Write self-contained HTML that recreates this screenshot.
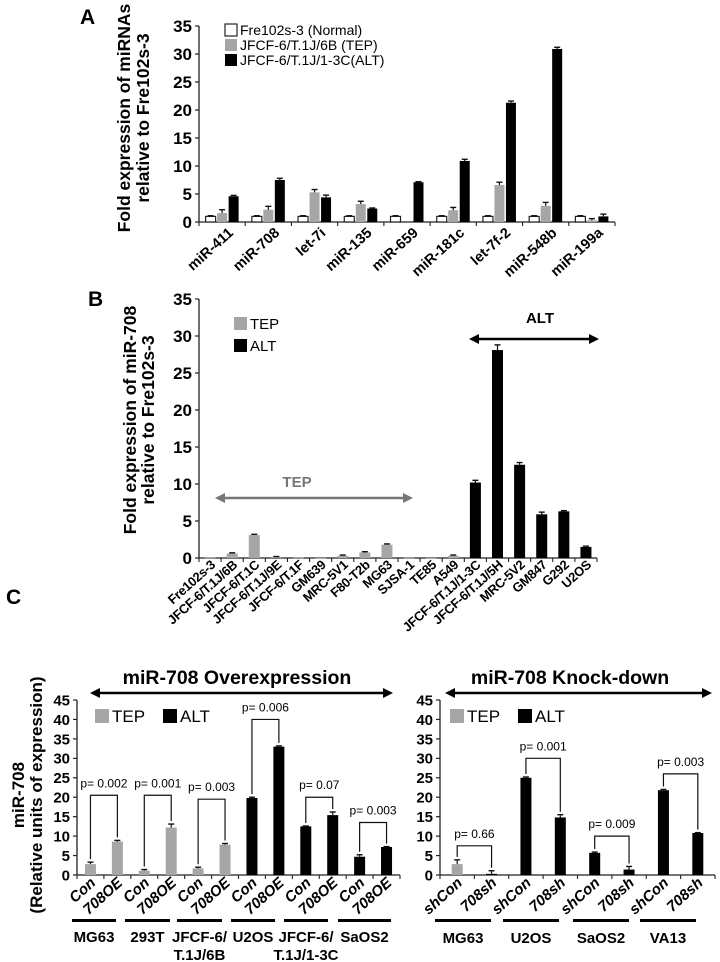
<!DOCTYPE html>
<html><head><meta charset="utf-8">
<style>
html,body{margin:0;padding:0;background:#fff;}
svg{display:block;font-family:"Liberation Sans",Arial,sans-serif;}
.b{font-weight:bold;}
</style></head>
<body>
<svg id="fig" width="720" height="962" viewBox="0 0 720 962" xmlns="http://www.w3.org/2000/svg">
<text x="80" y="24" class="b" font-size="21">A</text>
<text x="88" y="306" class="b" font-size="21">B</text>
<text x="6" y="604" class="b" font-size="21">C</text>
<g id="gA"></g>
<g id="gB"></g>
<g id="gC1"></g>
<g id="gC2"></g>
</svg>
<script>
// ---- Panel A data ----
const catsA = ["miR-411","miR-708","let-7i","miR-135","miR-659","miR-181c","let-7f-2","miR-548b","miR-199a"];
const normalA = [1,1,1,1,1,1,1,1,1];
const tepA = [1.6,2.2,5.3,3.2,0,2.1,6.6,2.9,0.3];
const altA = [4.6,7.5,4.4,2.4,7.1,10.9,21.3,30.9,1.0];
const tepErrA = [0.6,0.6,0.5,0.5,0,0.5,0.5,0.6,0.3];
const altErrA = [0.15,0.3,0.4,0.1,0.1,0.3,0.3,0.3,0.4];
const ticksA = [0,5,10,15,20,25,30,35];
// ---- Panel B data ----
const catsB = ["Fre102s-3","JFCF-6/T.1J/6B","JFCF-6/T.1C","JFCF-6/T.1J/9E","JFCF-6/T.1F","GM639","MRC-5V1","F80-T2b","MG63","SJSA-1","TE85","A549","JFCF-6/T.1J/1-3C","JFCF-6/T.1J/5H","MRC-5V2","GM847","G292","U2OS"];
const valsB = [0.05,0.6,3.1,0.15,0.05,0.02,0.3,0.75,1.8,0.03,0.02,0.3,10.2,28.1,12.6,5.9,6.3,1.5];
const typeB = ["T","T","T","T","T","T","T","T","T","T","T","T","A","A","A","A","A","A"];
const errB = [0,0.1,0.1,0.05,0,0,0.1,0.1,0.1,0,0,0.1,0.3,0.7,0.3,0.3,0.1,0.1];
const ticksB = [0,5,10,15,20,25,30,35];
// ---- Panel C data ----
const catsC1 = ["Con","708OE","Con","708OE","Con","708OE","Con","708OE","Con","708OE","Con","708OE"];
const valsC1 = [2.8,8.6,1.1,12.2,1.7,7.8,19.8,33.0,12.5,15.4,4.7,7.2];
const typeC1 = ["T","T","T","T","T","T","A","A","A","A","A","A"];
const errC1 = [0.5,0.3,0.3,0.9,0.3,0.3,0.2,0.2,0.1,0.8,0.5,0.1];
const groupsC1 = ["MG63","293T","JFCF-6/|T.1J/6B","U2OS","JFCF-6/|T.1J/1-3C","SaOS2"];
const pC1 = ["p= 0.002","p= 0.001","p= 0.003","p= 0.006","p= 0.07","p= 0.003"];
const pTopC1 = [20.5,20.5,19.5,40,20,13.5];
const catsC2 = ["shCon","708sh","shCon","708sh","shCon","708sh","shCon","708sh"];
const valsC2 = [2.8,0.3,25,14.8,5.7,1.4,21.8,10.8];
const typeC2 = ["T","A","A","A","A","A","A","A"];
const errC2 = [1.1,0.8,0.2,0.7,0.2,0.8,0.2,0.1];
const groupsC2 = ["MG63","U2OS","SaOS2","VA13"];
const pC2 = ["p= 0.66","p= 0.001","p= 0.009","p= 0.003"];
const pTopC2 = [7.5,30,10,26];
const ticksC = [0,5,10,15,20,25,30,35,40,45];

const NS="http://www.w3.org/2000/svg";
function mk(tag,attrs,parent,txt){const e=document.createElementNS(NS,tag);for(const k in attrs)e.setAttribute(k,attrs[k]);if(txt!==undefined)e.textContent=txt;parent.appendChild(e);return e;}
function yScale(y0,y1,vmax){return v=>y0-(y0-y1)*v/vmax;}
function axes(g,x0,x1,ys,ticks,fs,nCats){
  const l=mk('line',{x1:x0,y1:ys(0),x2:x0,y2:ys(ticks[ticks.length-1]),stroke:'#222','stroke-width':1.3},g);
  
  
  const xa=mk('line',{x1:x0,y1:ys(0),x2:x1,y2:ys(0),stroke:'#222','stroke-width':1.3},g);
  
  
  ticks.forEach(t=>{
    mk('line',{x1:x0-4,y1:ys(t),x2:x0,y2:ys(t),stroke:'#222','stroke-width':1.2},g);
    const tt=mk('text',{x:x0-7,y:ys(t)+fs*0.36,'text-anchor':'end','font-size':fs,'font-weight':'bold'},g,String(t));
    
    
  });
  const w=(x1-x0)/nCats;
  for(let i=0;i<=nCats;i++){mk('line',{x1:x0+i*w,y1:ys(0),x2:x0+i*w,y2:ys(0)+4,stroke:'#222','stroke-width':1.1},g);}
  return w;
}
function bar(g,cx,bw,ys,v,fill,err,name){
  const r=mk('rect',{x:cx-bw/2,y:ys(v),width:bw,height:Math.max(0.6,ys(0)-ys(v)),fill:fill,stroke:fill=='#fff'?'#222':'none','stroke-width':1.2},g);
  
  
  if(err>0){
    mk('line',{x1:cx,y1:ys(v+err),x2:cx,y2:ys(v),stroke:'#111','stroke-width':1.2},g);
    mk('line',{x1:cx-3,y1:ys(v+err),x2:cx+3,y2:ys(v+err),stroke:'#111','stroke-width':1.4},g);
  }
}
function rotLabel(g,x,y,txt,fs,ang,extra){
  const t=mk('text',Object.assign({x:x,y:y,'text-anchor':'end','font-size':fs,'font-weight':'bold',transform:`rotate(${ang} ${x} ${y})`},extra||{}),g,txt);
  
  
}
function legendItem(g,x,y,s,fill,txt,fs){
  const r=mk('rect',{x:x,y:y,width:s,height:s,fill:fill,stroke:fill=='#fff'?'#222':'none','stroke-width':1.2},g);
  
  
  const t=mk('text',{x:x+s+3,y:y+s-1,'font-size':fs},g,txt);
  
  
}
function arrow(g,x1,x2,y,col,name){
  const gg=mk('g',{},g);
  
  
  mk('line',{x1:x1+6,y1:y,x2:x2-6,y2:y,stroke:col,'stroke-width':2.4},gg);
  mk('polygon',{points:`${x1},${y} ${x1+10},${y-5} ${x1+10},${y+5}`,fill:col},gg);
  mk('polygon',{points:`${x2},${y} ${x2-10},${y-5} ${x2-10},${y+5}`,fill:col},gg);
}
function yTitle(g,x,y,lines,fs,gap){
  lines.forEach((ln,i)=>{
    const xx=x+i*gap;
    const t=mk('text',{x:xx,y:y,'text-anchor':'middle','font-size':fs,'font-weight':'bold',transform:`rotate(-90 ${xx} ${y})`},g,ln);
    
    
  });
}

// ---- Panel A ----
(function(){
  const g=document.getElementById('gA');
  const x0=199,x1=615,ys=yScale(222,26,35);
  const w=axes(g,x0,x1,ys,ticksA,17,catsA.length);
  yTitle(g,130,118,["Fold expression of miRNAs","relative to  Fre102s-3"],17.5,19);
  catsA.forEach((c,i)=>{
    const cx=x0+w*(i+0.5);
    bar(g,cx-11.5,10,ys,normalA[i],'#fff',0.12,'bar-normal-'+c);
    if(tepA[i]>0) bar(g,cx,10,ys,tepA[i],'#a6a6a6',tepErrA[i],'bar-tep-'+c);
    bar(g,cx+11.5,10,ys,altA[i],'#000',altErrA[i],'bar-alt-'+c);
    rotLabel(g,cx+12,234,c,14.5,-42);
  });
  legendItem(g,225,24,12,'#fff','Fre102s-3 (Normal)',14);
  legendItem(g,225,39,12,'#a6a6a6','JFCF-6/T.1J/6B (TEP)',14);
  legendItem(g,225,54,12,'#000','JFCF-6/T.1J/1-3C(ALT)',14);
})();

// ---- Panel B ----
(function(){
  const g=document.getElementById('gB');
  const x0=199,x1=597,ys=yScale(558,299,35);
  const w=axes(g,x0,x1,ys,ticksB,17,catsB.length);
  yTitle(g,136,420,["Fold expression of miR-708","relative to  Fre102s-3"],17.5,18);
  catsB.forEach((c,i)=>{
    const cx=x0+w*(i+0.5);
    bar(g,cx,11,ys,valsB[i],typeB[i]=='T'?'#a6a6a6':'#000',errB[i],'bar-'+c);
    rotLabel(g,cx+6,566,c,13,-42,{'letter-spacing':'-0.3'});
  });
  legendItem(g,234,317,13,'#a6a6a6','TEP',15);
  legendItem(g,234,339,13,'#000','ALT',15);
  arrow(g,215,413,498,'#777','tep-range-arrow');
  mk('text',{x:297,y:487,'text-anchor':'middle','font-size':15,'font-weight':'bold',fill:'#777'},g,'TEP');
  arrow(g,469,599,339,'#000','alt-range-arrow');
  mk('text',{x:540,y:323,'text-anchor':'middle','font-size':15,'font-weight':'bold'},g,'ALT');
})();

// ---- Panel C ----
function panelC(g,x0,x1,cats,vals,types,errs,groups,ps,ptops,title,titleX,arrX1,arrX2,legX,under,nameY){
  const ys=yScale(875,700,45);
  const w=axes(g,x0,x1,ys,ticksC,15,cats.length);
  const tt=mk('text',{x:titleX,y:684,'text-anchor':'middle','font-size':19.5,'font-weight':'bold'},g,title);
  
  
  arrow(g,arrX1,arrX2,693,'#000','range-arrow');
  legendItem(g,legX,709,14,'#a6a6a6','TEP',17);
  legendItem(g,legX+68,709,14,'#000','ALT',17);
  const cxs=[];
  cats.forEach((c,i)=>{
    const cx=x0+w*(i+0.5);cxs.push(cx);
    bar(g,cx,11,ys,vals[i],types[i]=='T'?'#a6a6a6':'#000',errs[i],'bar-'+c+'-'+i);
    rotLabel(g,cx+6,884,c,15,-42,{'font-style':'italic'});
  });
  groups.forEach((gn,k)=>{
    const a=cxs[2*k],b=cxs[2*k+1];
    const top=ys(ptops[k]);
    const bot1=ys(vals[2*k]+errs[2*k])-3, bot2=ys(vals[2*k+1]+errs[2*k+1])-3;
    const br=mk('path',{d:`M${a},${bot1} V${top} H${b} V${bot2}`,fill:'none',stroke:'#111','stroke-width':1.2},g);
    
    
    const pt=mk('text',{x:(a+b)/2,y:top-8,'text-anchor':'middle','font-size':12},g,ps[k]);
    
    
    const u=mk('rect',{x:under[k][0],y:919,width:under[k][1]-under[k][0],height:3,fill:'#000'},g);
    
    
    const lines=gn.split('|');
    lines.forEach((ln,j)=>{
      const t=mk('text',{x:(under[k][0]+under[k][1])/2,y:nameY+j*18,'text-anchor':'middle','font-size':15,'font-weight':'bold'},g,ln);
      
      
    });
  });
}
panelC(document.getElementById('gC1'),77,400,catsC1,valsC1,typeC1,errC1,groupsC1,pC1,pTopC1,'miR-708 Overexpression',237,90,393,95,
  [[72,116],[125,170],[177,222],[231,275],[284,328],[338,391]],942);
panelC(document.getElementById('gC2'),440,715,catsC2,valsC2,typeC2,errC2,groupsC2,pC2,pTopC2,'miR-708 Knock-down',570,445,712,450,
  [[435,491],[503,559],[573,629],[640,696]],943);
yTitle(document.getElementById('gC1'),24,795,["miR-708","(Relative units of expression)"],17,18);
</script>
</body></html>
